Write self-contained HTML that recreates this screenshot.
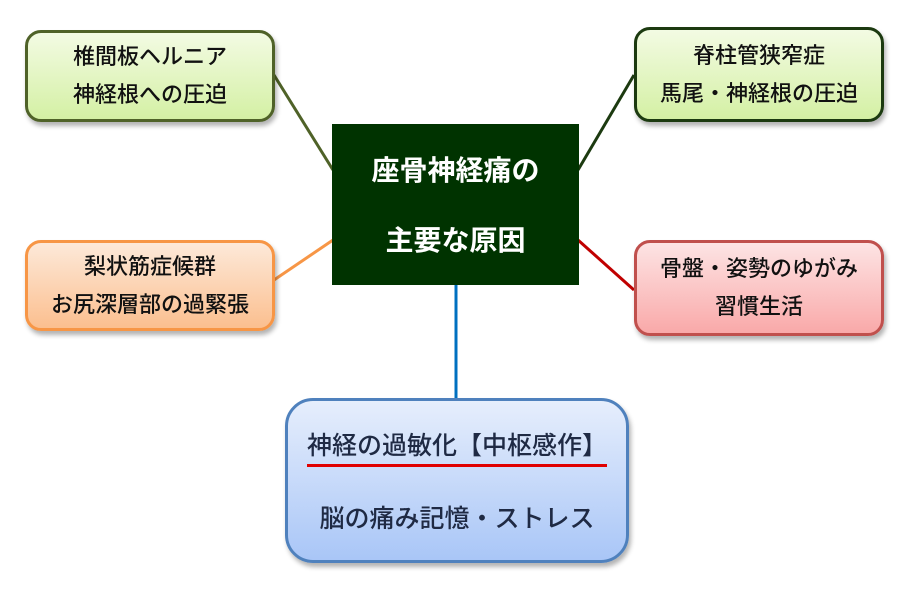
<!DOCTYPE html>
<html><head><meta charset="utf-8"><style>
body{margin:0;width:903px;height:592px;background:#fff;position:relative;overflow:hidden;font-family:"Liberation Sans","Noto Sans CJK JP",sans-serif}
.b{position:absolute;box-sizing:border-box;border-radius:16px;border:3px solid;display:flex;flex-direction:column;justify-content:center;align-items:center;font-size:22px;line-height:38px;color:#111;box-shadow:2px 4px 5px rgba(0,0,0,.3);font-weight:500}
</style></head><body>
<svg width="903" height="592" style="position:absolute;left:0;top:0">
<line x1="274" y1="75" x2="333" y2="170" stroke="#4f6228" stroke-width="3"/>
<line x1="274" y1="280" x2="333" y2="240" stroke="#f79646" stroke-width="3"/>
<line x1="578" y1="170" x2="634" y2="75" stroke="#1c3a10" stroke-width="3"/>
<line x1="578" y1="240" x2="634" y2="290" stroke="#c00000" stroke-width="3"/>
<line x1="456" y1="284" x2="456" y2="400" stroke="#0070c0" stroke-width="3"/>
</svg>
<div class="b" style="left:25px;top:30px;width:250px;height:92px;border-color:#4f6228;background:linear-gradient(#f3fbe3,#d4f0a4)"><div>椎間板ヘルニア</div><div>神経根への圧迫</div></div>
<div class="b" style="left:25px;top:240px;width:250px;height:91px;border-color:#f79646;background:linear-gradient(#fde9d9,#fbbf8f)"><div>梨状筋症候群</div><div>お尻深層部の過緊張</div></div>
<div class="b" style="left:634px;top:27px;width:250px;height:95px;border-color:#1c3a10;background:linear-gradient(#f3fbe3,#d4f0a4)"><div>脊柱管狭窄症</div><div>馬尾・神経根の圧迫</div></div>
<div class="b" style="left:634px;top:240px;width:250px;height:96px;border-color:#c0504d;background:linear-gradient(#fde4e4,#f9a9a9)"><div>骨盤・姿勢のゆがみ</div><div>習慣生活</div></div>
<div style="position:absolute;left:332px;top:124px;width:247px;height:161px;background:#003300;color:#fff;font-weight:bold;font-size:28px;display:flex;flex-direction:column;justify-content:center;align-items:center;line-height:40px;gap:30px;padding-top:2px;box-sizing:border-box"><div>座骨神経痛の</div><div>主要な原因</div></div>
<div class="b" style="left:285px;top:398px;width:344px;height:165px;border-radius:28px;border-color:#4f81bd;background:linear-gradient(#e6eefc,#a9c6f7);font-size:25px;color:#1f2a44;line-height:40px;gap:32px;padding-top:6px"><div style="border-bottom:3px solid #e00000;line-height:36px">神経の過敏化【中枢感作】</div><div>脳の痛み記憶・ストレス</div></div>
</body></html>
